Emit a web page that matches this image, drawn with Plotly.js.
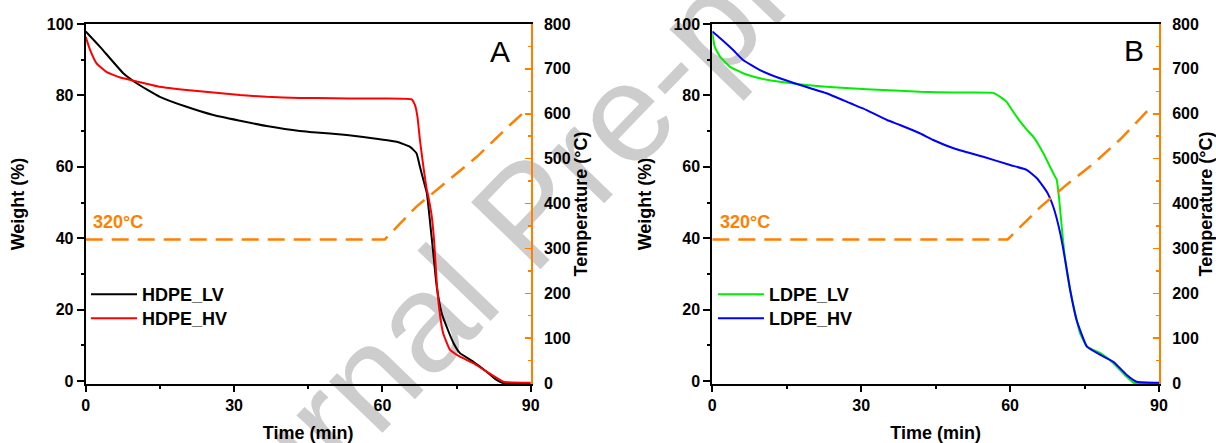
<!DOCTYPE html>
<html>
<head>
<meta charset="utf-8">
<script src="https://cdn.plot.ly/plotly-3.0.1.min.js"></script>
<style>
  html, body { margin: 0; padding: 0; background: #ffffff; }
  #chart { width: 1216px; height: 443px; }
</style>
</head>
<body>
<div id="chart"></div>
<script>
// ---------- Data ----------
// Panel A: HDPE
const timeHDPE_LV = [0, 2.9, 7.6, 10.3, 15.0, 20.4, 25.8, 31.2, 36.6, 43.3, 46.0, 52.8, 59.5, 62.9, 65.6, 66.9, 67.6, 68.3, 69.0, 69.6, 70.3, 71.0, 72.0, 73.0, 74.4, 75.7, 78.4, 81.1, 83.1, 84.5, 90];
const weightHDPE_LV = [97.9, 93.6, 86.2, 83.4, 79.6, 76.8, 74.5, 72.9, 71.4, 70.0, 69.7, 68.9, 67.7, 67.0, 65.6, 63.8, 60.0, 56.3, 52.6, 45.1, 35.8, 26.4, 19.0, 15.2, 10.6, 7.8, 5.4, 2.6, 0.3, -0.6, -0.7];

const timeHDPE_HV = [0, 0.9, 2.2, 4.2, 7.0, 10.3, 15.0, 20.4, 25.8, 31.2, 36.6, 43.3, 50.0, 56.1, 65.9, 66.6, 67.1, 67.6, 68.3, 69.0, 69.3, 70.0, 70.5, 71.0, 71.7, 72.3, 73.7, 75.7, 78.4, 81.1, 84.5, 90];
const weightHDPE_HV = [96.4, 92.7, 89.0, 86.6, 85.0, 83.9, 82.4, 81.5, 80.8, 80.1, 79.6, 79.3, 79.2, 79.1, 78.9, 77.3, 74.0, 67.5, 60.0, 53.5, 51.6, 46.0, 38.6, 27.4, 18.0, 13.4, 8.7, 6.8, 5.0, 2.6, -0.2, -0.5];

const timeTempA = [0, 60.5, 66.9, 73.0, 79.1, 85.8, 89.5];
const tempA = [320, 320, 393, 448, 504, 575, 612];

// Panel B: LDPE
const timeLDPE_LV = [0, 0.5, 1.6, 3.6, 6.2, 9.6, 13.6, 19.0, 24.4, 31.1, 37.8, 41.8, 48.6, 56.6, 58.0, 59.3, 60.6, 62.0, 63.3, 64.7, 66.7, 68.7, 69.4, 69.9, 70.4, 71.1, 72.1, 73.1, 74.1, 75.5, 78.2, 80.8, 83.5, 84.9, 90];
const weightLDPE_LV = [97.4, 93.6, 90.8, 88.0, 86.2, 84.8, 83.8, 82.9, 82.3, 81.7, 81.3, 81.0, 80.8, 80.7, 79.6, 78.2, 75.5, 72.7, 70.5, 68.4, 63.8, 58.2, 56.3, 50.7, 43.2, 33.9, 25.5, 19.0, 13.4, 9.6, 7.8, 5.0, 1.2, -0.5, -0.6];

const timeLDPE_HV = [0, 1.6, 4.2, 6.2, 9.6, 13.6, 17.7, 23.0, 27.8, 31.1, 35.2, 37.8, 41.8, 44.5, 48.6, 54.6, 60.0, 63.4, 65.4, 67.4, 68.7, 70.1, 71.1, 72.1, 73.4, 75.5, 78.2, 80.8, 83.5, 85.5, 90];
const weightLDPE_HV = [97.9, 96.0, 92.7, 89.9, 87.1, 84.8, 82.9, 80.6, 77.8, 75.9, 73.1, 71.7, 69.4, 67.5, 65.2, 62.8, 60.5, 59.1, 56.8, 53.0, 48.8, 41.4, 33.9, 25.5, 17.1, 9.6, 7.3, 5.4, 1.7, -0.2, -0.5];

const timeTempB = [0, 59.5, 66.2, 71.4, 76.8, 82.1, 87.9];
const tempB = [320, 320, 393, 442, 489, 542, 609];

const xTicks = [0, 30, 60, 90];
const holdLabel = '320°C';
const panelLabels = ['A', 'B'];
const watermark = 'Journal Pre-proof';

// ---------- Styles ----------
const FONT = 'Liberation Sans, Arial, Helvetica, sans-serif';
const ORANGE = '#ff8000';
const W = 1216, H = 443;
const px = v => v / W;
const py = v => 1 - v / H;

const curve = (x, y, name, color, xa, ya, legend) => ({
  x, y, name, type: 'scatter', mode: 'lines',
  xaxis: xa, yaxis: ya, legend: legend,
  line: { color, width: 2, shape: 'spline', smoothing: 0.4 }
});
const tempTrace = (x, y, xa, ya) => ({
  x, y, type: 'scatter', mode: 'lines', showlegend: false, hoverinfo: 'skip',
  xaxis: xa, yaxis: ya,
  line: { color: ORANGE, width: 2.5, dash: '17px,9px' }
});

const data = [
  tempTrace(timeTempA, tempA, 'x', 'y2'),
  curve(timeHDPE_LV, weightHDPE_LV, 'HDPE_LV', '#000000', 'x', 'y', 'legend'),
  curve(timeHDPE_HV, weightHDPE_HV, 'HDPE_HV', '#ff0000', 'x', 'y', 'legend2'),
  tempTrace(timeTempB, tempB, 'x2', 'y4'),
  curve(timeLDPE_LV, weightLDPE_LV, 'LDPE_LV', '#00ee00', 'x2', 'y3', 'legend3'),
  curve(timeLDPE_HV, weightLDPE_HV, 'LDPE_HV', '#0000ff', 'x2', 'y3', 'legend4')
];

const tickFont = { family: FONT, size: 16, color: '#000000', weight: 'bold' };
const titleFont = { family: FONT, size: 18, color: '#000000', weight: 'bold' };
const yDom = [py(384), py(24)];

const xAxis = (domain, anchor) => ({
  domain, anchor, range: [0, 90], tickvals: xTicks, ticks: 'outside', ticklen: 6, tickwidth: 2,
  tickcolor: '#000', showline: true, linecolor: '#000', linewidth: 2, mirror: true,
  showgrid: false, zeroline: false, tickfont: tickFont,
  minor: { dtick: 15, ticks: 'outside', ticklen: 3, tickwidth: 2, tickcolor: '#000', showgrid: false },
  title: { text: 'Time (min)', font: titleFont, standoff: 16 }
});
const yLeft = (anchor) => ({
  domain: yDom, anchor, range: [-0.84, 100], dtick: 20, ticks: 'outside', ticklen: 7, tickwidth: 2,
  tickcolor: '#000', showline: true, linecolor: '#000', linewidth: 2,
  showgrid: false, zeroline: false, tickfont: tickFont,
  minor: { dtick: 10, ticks: 'outside', ticklen: 3, tickwidth: 2, tickcolor: '#000', showgrid: false },
  title: { text: 'Weight (%)', font: titleFont, standoff: 17 }
});
const yRight = (anchor, overlay) => ({
  overlaying: overlay, anchor, side: 'right', range: [-2.2, 800], dtick: 100,
  ticks: 'inside', ticklen: 6, tickwidth: 1.5, tickcolor: ORANGE,
  showline: true, linecolor: ORANGE, linewidth: 2, showgrid: false, zeroline: false,
  tickfont: tickFont, ticklabelstandoff: 8,
  minor: { dtick: 50, ticks: 'inside', ticklen: 3, tickwidth: 1.5, tickcolor: ORANGE, showgrid: false },
  title: { text: 'Temperature (°C)', font: titleFont, standoff: 5 }
});

// one legend box per entry so the row spacing matches the reference
const legendStyle = (xpx, topPx) => ({
  x: px(xpx), xanchor: 'left', y: py(topPx), yanchor: 'top',
  bgcolor: 'rgba(0,0,0,0)', borderwidth: 0, tracegroupgap: 0,
  font: { family: FONT, size: 18, color: '#000000', weight: 'bold' },
  itemwidth: 46
});

const ann = (text, xref, yref, x, y, font, xanchor) => ({
  text, xref, yref, x, y, showarrow: false, xanchor: xanchor || 'center', yanchor: 'middle', font
});
const holdFont = { family: FONT, size: 18, color: ORANGE, weight: 'bold' };
const panelFont = { family: FONT, size: 30, color: '#000000' };

// Watermark: text centred on (cx, cy) px, running up-right at angle ang
const cx = 518, cy = 204, ang = 46 * Math.PI / 180, half = 100;

const layout = {
  width: W, height: H,
  margin: { l: 0, r: 0, t: 0, b: 0 },
  paper_bgcolor: '#ffffff', plot_bgcolor: 'rgba(0,0,0,0)',
  showlegend: true,
  xaxis: xAxis([px(85.7), px(530.7)], 'y'),
  yaxis: yLeft('x'),
  yaxis2: yRight('x', 'y'),
  xaxis2: xAxis([px(712.3), px(1159)], 'y3'),
  yaxis3: yLeft('x2'),
  yaxis4: yRight('x2', 'y3'),
  legend: legendStyle(86, 276),
  legend2: legendStyle(86, 300),
  legend3: legendStyle(713, 276),
  legend4: legendStyle(713, 300),
  annotations: [
    ann(holdLabel, 'x', 'y', 1.1, 44.5, holdFont, 'left'),
    ann(holdLabel, 'x2', 'y3', 1.1, 44.5, holdFont, 'left'),
    ann(panelLabels[0], 'x', 'y', 83.8, 92.4, panelFont),
    ann(panelLabels[1], 'x2', 'y3', 85.0, 92.7, panelFont)
  ],
  shapes: [{
    type: 'line', xref: 'paper', yref: 'paper', layer: 'below',
    x0: px(cx - half * Math.cos(ang)), y0: py(cy + half * Math.sin(ang)),
    x1: px(cx + half * Math.cos(ang)), y1: py(cy - half * Math.sin(ang)),
    line: { color: 'rgba(0,0,0,0)', width: 0 },
    label: { text: watermark, textangle: 'auto', textposition: 'middle', yanchor: 'middle',
             font: { family: FONT, size: 140, color: '#cdcdcd' } }
  }]
};

Plotly.newPlot('chart', data, layout, { staticPlot: true, displayModeBar: false });
</script>
</body>
</html>
